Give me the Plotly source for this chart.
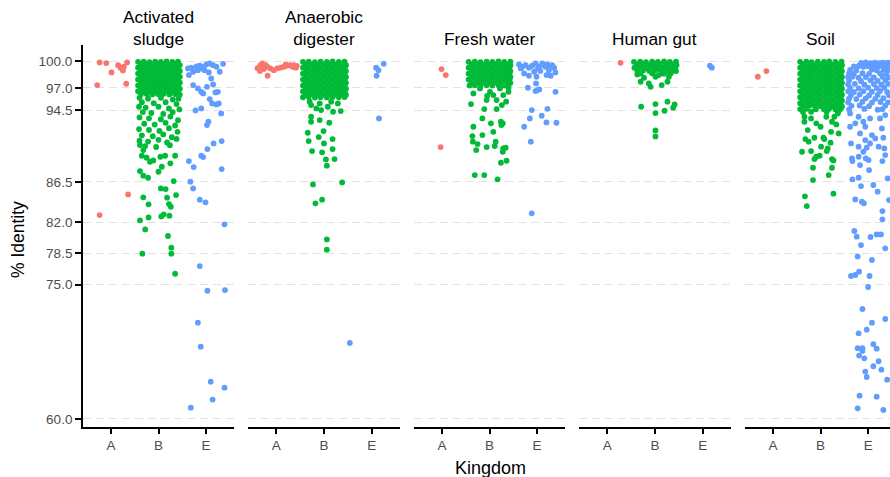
import plotly.graph_objects as go

# ---------------- data: (jitter offset within kingdom, % identity) ----------------
panels = ["Activated<br>sludge", "Anaerobic<br>digester", "Fresh water", "Human gut", "Soil"]
kingdoms = ["A", "B", "E"]
y_ticks = [60, 75, 78.5, 82, 86.5, 94.5, 97, 100]
colors = {"A": "#F8766D", "B": "#00BA38", "E": "#619CFF"}

sludge_A = [(-0.24,99.85),(-0.10,99.78),(0.01,98.73),(0.15,99.55),(0.20,99.26),(0.25,98.96),(0.27,99.37),
            (0.34,99.85),(-0.29,97.32),(0.32,97.47),(0.36,85.10),(-0.24,82.79)]
sludge_B = [
    (-0.43,99.92),(-0.31,99.95),(-0.19,99.89),(-0.07,99.93),(0.05,99.90),(0.17,99.96),(0.29,99.91),(0.41,99.94),
    (-0.37,99.60),(-0.25,99.63),(-0.13,99.57),(-0.01,99.61),(0.11,99.64),(0.23,99.58),(0.35,99.62),(0.45,99.56),
    (-0.43,99.27),(-0.31,99.30),(-0.19,99.24),(-0.07,99.28),(0.05,99.25),(0.17,99.31),(0.29,99.26),(0.41,99.29),
    (-0.37,98.94),(-0.25,98.97),(-0.13,98.91),(-0.01,98.95),(0.11,98.98),(0.23,98.92),(0.35,98.96),(0.45,98.90),
    (-0.43,98.61),(-0.31,98.64),(-0.19,98.58),(-0.07,98.62),(0.05,98.59),(0.17,98.65),(0.29,98.60),(0.41,98.63),
    (-0.37,98.28),(-0.25,98.31),(-0.13,98.25),(-0.01,98.29),(0.11,98.32),(0.23,98.26),(0.35,98.30),(0.45,98.24),
    (-0.43,97.95),(-0.31,97.98),(-0.19,97.92),(-0.07,97.96),(0.05,97.93),(0.17,97.99),(0.29,97.94),(0.41,97.97),
    (-0.37,97.62),(-0.25,97.65),(-0.13,97.59),(-0.01,97.63),(0.11,97.66),(0.23,97.60),(0.35,97.64),(0.45,97.58),
    (-0.43,97.29),(-0.31,97.32),(-0.19,97.26),(-0.07,97.30),(0.05,97.27),(0.17,97.33),(0.29,97.28),(0.41,97.31),
    (-0.37,96.96),(-0.25,96.99),(-0.13,96.93),(-0.01,96.97),(0.11,97.00),(0.23,96.94),(0.35,96.98),(0.45,96.92),
    (-0.43,96.63),(-0.31,96.66),(-0.19,96.60),(-0.07,96.64),(0.05,96.61),(0.17,96.67),(0.29,96.62),(0.41,96.65),
    (-0.37,96.30),(-0.25,96.33),(-0.13,96.27),(-0.01,96.31),(0.11,96.34),(0.23,96.28),(0.35,96.32),(0.45,96.26),
    (-0.40,95.9),(-0.22,95.8),(0.05,95.9),(0.30,95.7),(0.42,95.8),(-0.35,95.4),(-0.10,95.3),(0.15,95.4),(0.38,95.2),
    (-0.41,94.9),(-0.27,94.8),(0.00,94.9),(0.22,94.7),(0.44,94.6),(-0.33,94.3),(-0.15,94.2),(0.10,94.1),(0.30,94.3),
    (-0.40,93.7),(-0.20,93.6),(0.05,93.5),(0.25,93.8),(0.41,93.4),(-0.30,93.0),(-0.08,92.9),(0.15,93.1),(0.35,92.8),
    (-0.41,92.4),(-0.20,92.3),(0.02,92.2),(0.22,92.5),(0.40,92.1),(-0.35,91.7),(-0.12,91.6),(0.10,91.8),(0.28,91.5),
    (-0.40,91.1),(-0.22,91.0),(0.00,91.2),(0.18,90.9),(0.38,91.3),(-0.28,90.5),(-0.05,90.4),(0.24,90.6),
    (-0.39,90.61),(-0.32,90.06),(-0.35,89.42),(-0.25,89.20),(-0.18,88.75),(-0.11,88.90),(0.04,89.31),(0.14,89.42),
    (0.25,88.57),(0.35,89.42),(0.07,88.19),(-0.39,87.71),(-0.32,87.19),(-0.22,86.96),(0.00,87.63),(0.32,86.59),
    (0.05,85.77),(0.15,85.70),(-0.32,84.77),(-0.21,83.99),(0.18,84.73),(0.22,84.02),(0.26,83.72),(0.37,85.03),
    (-0.39,82.20),(-0.21,82.53),(-0.28,81.19),(0.06,82.64),(0.11,82.87),(0.23,82.72),(0.20,80.45),
    (-0.34,78.47),(0.27,79.14),(0.27,78.47),(0.35,76.23)]
sludge_E = [
    (-0.38,99.18),(-0.31,99.26),(-0.20,99.40),(-0.13,99.48),(-0.06,99.37),(0.01,99.63),(0.08,99.74),(0.15,99.55),
    (0.22,99.37),(0.29,98.81),(0.36,99.70),(-0.36,98.44),(-0.27,98.81),(-0.17,98.99),(-0.10,99.18),(-0.03,98.99),
    (0.06,98.73),(0.11,98.06),(-0.27,97.32),(-0.17,96.95),(-0.10,96.57),(-0.06,96.39),(0.02,97.13),(0.15,97.39),
    (0.20,96.50),(0.25,96.57),(0.08,95.75),(0.13,95.27),(0.22,95.16),(0.27,95.27),(0.32,94.15),(-0.22,94.49),
    (-0.10,94.71),(0.02,92.85),(0.05,93.22),(0.16,90.80),(0.33,91.06),(0.03,90.17),(-0.10,89.42),(-0.06,89.27),
    (-0.36,88.83),(-0.26,88.16),(0.33,87.93),(-0.33,86.52),(-0.27,85.77),(-0.13,84.51),(-0.01,84.21),(0.39,81.75),
    (-0.13,77.09),(0.03,74.33),(0.40,74.41),(-0.17,70.76),(-0.11,68.08),(0.10,64.17),(0.39,63.50),(0.14,62.16),
    (-0.32,61.26)]

digester_A = [(-0.33,99.55),(-0.29,99.74),(-0.34,98.88),(-0.26,99.11),(-0.19,99.37),(-0.18,98.36),(-0.12,99.18),
              (-0.05,98.99),(0.02,99.18),(0.09,99.26),(0.16,99.37),(0.20,99.63),(0.23,99.48),(0.29,99.55),
              (0.34,99.37),(0.37,99.55),(0.41,99.26),(-0.22,99.55),(-0.39,99.20),(0.43,99.45)]
digester_B = [
    (-0.44,99.92),(-0.32,99.95),(-0.19,99.89),(-0.07,99.93),(0.06,99.90),(0.18,99.96),(0.31,99.91),(0.43,99.94),
    (-0.38,99.59),(-0.25,99.62),(-0.13,99.56),(0.00,99.60),(0.12,99.63),(0.25,99.57),(0.37,99.61),(0.46,99.55),
    (-0.44,99.26),(-0.32,99.29),(-0.19,99.23),(-0.07,99.27),(0.06,99.24),(0.18,99.30),(0.31,99.25),(0.43,99.28),
    (-0.38,98.93),(-0.25,98.96),(-0.13,98.90),(0.00,98.94),(0.12,98.97),(0.25,98.91),(0.37,98.95),(0.46,98.89),
    (-0.44,98.60),(-0.32,98.63),(-0.19,98.57),(-0.07,98.61),(0.06,98.58),(0.18,98.64),(0.31,98.59),(0.43,98.62),
    (-0.38,98.27),(-0.25,98.30),(-0.13,98.24),(0.00,98.28),(0.12,98.31),(0.25,98.25),(0.37,98.29),(0.46,98.23),
    (-0.44,97.94),(-0.32,97.97),(-0.19,97.91),(-0.07,97.95),(0.06,97.92),(0.18,97.98),(0.31,97.93),(0.43,97.96),
    (-0.38,97.61),(-0.25,97.64),(-0.13,97.58),(0.00,97.62),(0.12,97.65),(0.25,97.59),(0.37,97.63),(0.46,97.57),
    (-0.44,97.28),(-0.32,97.31),(-0.19,97.25),(-0.07,97.29),(0.06,97.26),(0.18,97.32),(0.31,97.27),(0.43,97.30),
    (-0.38,96.95),(-0.25,96.98),(-0.13,96.92),(0.00,96.96),(0.12,96.99),(0.25,96.93),(0.37,96.97),(0.46,96.91),
    (-0.44,96.62),(-0.32,96.65),(-0.19,96.59),(-0.07,96.63),(0.06,96.60),(0.18,96.66),(0.31,96.61),(0.43,96.64),
    (-0.38,96.29),(-0.25,96.32),(-0.13,96.26),(0.00,96.30),(0.12,96.33),(0.25,96.27),(0.37,96.31),(0.46,96.25),
    (-0.44,95.96),(-0.32,95.99),(-0.19,95.93),(-0.07,95.97),(0.06,95.94),(0.18,96.00),(0.31,95.95),(0.43,95.98),
    (-0.27,95.08),(-0.16,94.71),(-0.06,94.53),(0.08,94.90),(0.19,94.34),(0.29,95.27),(-0.30,95.46),(0.15,95.46),
    (-0.09,95.27),(-0.27,93.78),(-0.27,93.22),(-0.09,93.41),(0.11,93.11),(0.35,94.41),(-0.01,92.18),(-0.34,91.99),
    (-0.32,91.06),(-0.11,91.51),(0.18,91.28),(0.00,90.80),(-0.25,89.94),(-0.04,89.80),(0.18,90.17),(0.04,89.01),
    (0.22,89.05),(0.06,88.31),(-0.23,86.22),(0.38,86.44),(-0.18,84.10),(-0.04,84.51),(0.06,80.07),(0.06,78.92)]
digester_E = [(0.09,99.26),(0.14,98.99),(0.25,99.70),(0.10,98.36),(0.15,93.59),(-0.46,68.5)]

fresh_A = [(-0.01,99.11),(0.08,98.44),(-0.03,90.39)]
fresh_B = [
    (-0.44,99.92),(-0.31,99.95),(-0.19,99.89),(-0.06,99.93),(0.06,99.90),(0.19,99.96),(0.31,99.91),(0.44,99.94),
    (-0.37,99.59),(-0.25,99.62),(-0.12,99.56),(0.00,99.60),(0.12,99.63),(0.25,99.57),(0.37,99.61),(0.44,99.55),
    (-0.44,99.26),(-0.31,99.29),(-0.19,99.23),(-0.06,99.27),(0.06,99.24),(0.19,99.30),(0.31,99.25),(0.42,99.28),
    (-0.37,98.93),(-0.25,98.96),(-0.12,98.90),(0.00,98.94),(0.12,98.97),(0.25,98.91),(0.37,98.95),(0.44,98.89),
    (-0.44,98.60),(-0.31,98.63),(-0.19,98.57),(-0.06,98.61),(0.06,98.58),(0.19,98.64),(0.31,98.59),(0.42,98.62),
    (-0.37,98.27),(-0.25,98.30),(-0.12,98.24),(0.00,98.28),(0.12,98.31),(0.25,98.25),(0.37,98.29),(0.44,98.23),
    (-0.44,97.94),(-0.31,97.97),(-0.19,97.91),(-0.06,97.95),(0.06,97.92),(0.19,97.98),(0.31,97.93),(0.42,97.96),
    (-0.37,97.61),(-0.25,97.64),(-0.12,97.58),(0.00,97.62),(0.12,97.65),(0.25,97.59),(0.37,97.63),(0.44,97.57),
    (-0.42,97.28),(-0.31,97.31),(-0.19,97.25),(-0.06,97.29),(0.06,97.26),(0.19,97.32),(0.31,97.27),(0.40,97.30),
    (-0.34,96.39),(-0.39,95.20),(-0.11,94.64),(-0.15,93.59),(0.03,93.04),(0.24,93.22),(0.28,93.04),
    (-0.34,92.66),(-0.15,91.73),(0.08,92.10),(0.25,92.85),(-0.36,91.62),(-0.35,90.99),(-0.25,90.73),(-0.28,90.06),
    (-0.06,90.39),(0.11,90.50),(0.13,90.99),(0.29,90.24),(0.34,90.32),(0.28,89.87),(0.36,88.86),(0.24,88.64),
    (-0.31,87.26),(-0.11,87.26),(0.17,86.78),(0.08,96.20),(0.15,95.64),(0.29,96.20),(0.40,96.57),(0.01,96.57),
    (-0.20,96.95),(0.15,94.64),(0.26,95.08),(0.35,95.46),(-0.06,95.64),(0.22,96.95),(0.40,97.00),(-0.05,96.10)]
fresh_E = [
    (-0.38,99.63),(-0.31,99.37),(-0.24,99.55),(-0.17,99.26),(-0.10,99.48),(-0.03,99.74),(0.04,99.37),(0.15,99.55),
    (0.22,99.63),(0.29,99.37),(0.36,99.26),(0.25,98.99),(0.32,99.55),(-0.27,98.62),(-0.17,98.36),(-0.06,98.81),
    (0.02,99.18),(0.20,98.44),(0.29,98.36),(0.39,98.73),(-0.01,98.25),(-0.02,97.50),(-0.19,97.02),(-0.03,96.65),
    (0.01,96.76),(0.05,96.83),(0.39,96.57),(-0.11,94.53),(-0.15,93.59),(0.10,93.89),(0.22,94.67),(0.20,93.15),
    (0.41,93.11),(-0.27,92.66),(-0.13,90.99),(-0.11,82.98),(0.18,99.37),(0.11,99.74),(-0.34,99.18),(0.07,98.90)]

gut_A = [(0.28,99.81)]
gut_B = [
    (-0.44,99.92),(-0.31,99.95),(-0.19,99.89),(-0.06,99.93),(0.06,99.90),(0.19,99.96),(0.31,99.91),(0.44,99.94),
    (-0.37,99.59),(-0.25,99.62),(-0.12,99.56),(0.00,99.60),(0.12,99.63),(0.25,99.57),(0.37,99.61),(0.45,99.55),
    (-0.43,99.26),(-0.30,99.29),(-0.18,99.23),(-0.06,99.27),(0.06,99.24),(0.18,99.30),(0.31,99.25),(0.42,99.28),
    (-0.37,98.93),(-0.25,98.96),(-0.12,98.90),(0.00,98.94),(0.12,98.97),(0.25,98.91),(0.37,98.95),(0.44,98.89),
    (-0.30,98.62),(-0.06,98.63),(0.18,98.60),(0.33,98.64),
    (-0.37,98.51),(-0.23,98.14),(-0.30,97.69),(-0.13,97.50),(-0.09,97.13),(0.01,98.25),(0.14,97.32),(0.26,97.69),
    (0.29,98.25),(0.22,98.81),(0.08,98.44),(-0.29,94.90),(0.01,95.20),(0.01,94.19),(0.20,94.45),(0.26,95.46),
    (0.38,94.79),(0.41,95.16),(0.01,92.25),(0.01,91.58)]
gut_E = [(0.15,99.48),(0.19,99.26)]

soil_A = [(-0.32,98.25),(-0.14,98.88)]
soil_B = [
    (-0.43,99.92),(-0.30,99.95),(-0.19,99.89),(-0.06,99.93),(0.07,99.90),(0.18,99.96),(0.31,99.91),(0.44,99.94),
    (-0.37,99.59),(-0.24,99.62),(-0.12,99.56),(0.00,99.60),(0.13,99.63),(0.24,99.57),(0.37,99.61),(0.45,99.55),
    (-0.43,99.26),(-0.30,99.29),(-0.19,99.23),(-0.06,99.27),(0.07,99.24),(0.18,99.30),(0.31,99.25),(0.42,99.28),
    (-0.37,98.93),(-0.24,98.96),(-0.12,98.90),(0.00,98.94),(0.13,98.97),(0.24,98.91),(0.37,98.95),(0.45,98.89),
    (-0.43,98.60),(-0.30,98.63),(-0.19,98.57),(-0.06,98.61),(0.07,98.58),(0.18,98.64),(0.31,98.59),(0.42,98.62),
    (-0.37,98.27),(-0.24,98.30),(-0.12,98.24),(0.00,98.28),(0.13,98.31),(0.24,98.25),(0.37,98.29),(0.45,98.23),
    (-0.43,97.94),(-0.30,97.97),(-0.19,97.91),(-0.06,97.95),(0.07,97.92),(0.18,97.98),(0.31,97.93),(0.42,97.96),
    (-0.37,97.61),(-0.24,97.64),(-0.12,97.58),(0.00,97.62),(0.13,97.65),(0.24,97.59),(0.37,97.63),(0.45,97.57),
    (-0.43,97.28),(-0.30,97.31),(-0.19,97.25),(-0.06,97.29),(0.07,97.26),(0.18,97.32),(0.31,97.27),(0.42,97.30),
    (-0.37,96.95),(-0.24,96.98),(-0.12,96.92),(0.00,96.96),(0.13,96.99),(0.24,96.93),(0.37,96.97),(0.45,96.91),
    (-0.43,96.62),(-0.30,96.65),(-0.19,96.59),(-0.06,96.63),(0.07,96.60),(0.18,96.66),(0.31,96.61),(0.42,96.64),
    (-0.37,96.29),(-0.24,96.32),(-0.12,96.26),(0.00,96.30),(0.13,96.33),(0.24,96.27),(0.37,96.31),(0.45,96.25),
    (-0.43,95.96),(-0.30,95.99),(-0.19,95.93),(-0.06,95.97),(0.07,95.94),(0.18,96.00),(0.31,95.95),(0.42,95.98),
    (-0.37,95.63),(-0.24,95.66),(-0.12,95.60),(0.00,95.64),(0.13,95.67),(0.24,95.61),(0.37,95.65),(0.45,95.59),
    (-0.43,95.30),(-0.30,95.33),(-0.19,95.27),(-0.06,95.31),(0.07,95.28),(0.18,95.34),(0.31,95.29),(0.42,95.32),
    (-0.37,94.97),(-0.24,95.00),(-0.12,94.94),(0.00,94.98),(0.13,95.01),(0.24,94.95),(0.37,94.99),(0.45,94.93),
    (-0.43,94.64),(-0.30,94.67),(-0.10,94.61),(0.07,94.62),(0.18,94.68),(0.31,94.63),(0.42,94.66),
    (-0.37,94.31),(-0.20,94.34),(0.13,94.35),(0.37,94.33),
    (-0.34,93.22),(-0.27,92.29),(-0.09,93.04),(0.00,92.66),(0.24,93.22),(0.33,92.92),(0.38,91.92),(0.22,92.10),
    (-0.32,91.28),(-0.25,90.99),(-0.13,91.43),(0.08,91.28),(0.21,90.88),(-0.39,89.87),(-0.20,89.94),(-0.09,89.31),
    (-0.13,89.05),(-0.02,89.42),(0.13,89.94),(0.24,89.05),(0.27,88.90),(-0.16,88.08),(0.24,88.08),(0.17,87.26),
    (-0.16,86.70),(0.27,85.18),(-0.33,84.88),(-0.29,83.80),(0.06,91.43),(0.01,90.43),(0.15,90.24),(-0.34,93.78),
    (-0.20,93.59),(0.12,93.78),(0.29,93.78),(0.36,94.15)]
soil_E = [
    (-0.15,99.80),(-0.05,99.85),(0.05,99.78),(0.14,99.84),(0.22,99.76),(0.30,99.82),(0.38,99.79),(0.45,99.83),
    (-0.30,99.40),(-0.20,99.45),(-0.10,99.36),(0.00,99.42),(0.10,99.47),(0.20,99.38),(0.28,99.44),(0.36,99.35),(0.44,99.41),
    (-0.38,99.02),(-0.25,98.96),(0.08,99.05),(0.18,98.98),(0.33,99.03),(0.42,98.95),
    (-0.40,98.62),(-0.30,98.56),(-0.12,98.65),(0.02,98.58),(0.25,98.64),(0.38,98.55),
    (-0.42,98.20),(-0.33,98.26),(-0.20,98.15),(-0.05,98.22),(0.12,98.18),(0.30,98.25),(0.44,98.16),
    (-0.40,97.82),(-0.15,97.76),(0.05,97.85),(0.20,97.78),(0.36,97.84),
    (-0.42,97.40),(-0.28,97.46),(-0.08,97.36),(0.12,97.43),(0.28,97.38),(0.42,97.45),
    (-0.38,97.00),(-0.20,96.95),(0.00,97.04),(0.18,96.98),(0.34,97.02),
    (-0.42,96.62),(-0.30,96.56),(-0.10,96.64),(0.08,96.58),(0.25,96.65),(0.40,96.55),
    (-0.36,96.20),(-0.18,96.26),(0.02,96.16),(0.20,96.22),(0.44,96.18),
    (-0.40,95.82),(-0.25,95.76),(-0.05,95.84),(0.15,95.78),(0.32,95.85),
    (-0.42,95.40),(-0.12,95.46),(0.08,95.36),(0.26,95.43),(0.42,95.38),
    (-0.35,95.00),(-0.18,95.05),(0.02,94.96),(0.36,95.02),(-0.40,94.60),(-0.08,94.65),(0.20,94.56),(0.30,94.62),
    (-0.38,94.15),(-0.20,93.78),(-0.38,92.66),(-0.27,93.04),(-0.10,93.22),(0.04,93.59),(-0.06,92.66),(0.25,93.59),
    (0.36,93.97),(0.29,92.48),(-0.17,91.92),(0.08,91.73),(-0.06,91.17),(0.15,91.36),(0.04,90.80),(0.32,91.43),
    (-0.36,90.80),(-0.20,90.43),(-0.03,90.32),(-0.10,89.87),(0.22,90.43),(0.34,90.24),(-0.20,89.31),(-0.34,89.12),
    (-0.05,89.12),(0.01,88.94),(0.36,89.50),(0.30,88.83),(-0.33,88.83),(-0.17,88.38),(0.02,87.82),(-0.33,86.78),
    (-0.20,86.96),(-0.15,86.03),(0.11,86.15),(0.20,85.40),(-0.27,84.54),(-0.13,84.28),(-0.09,84.10),(0.30,83.24),
    (0.30,82.31),(-0.29,81.01),(-0.24,80.37),(0.05,80.34),(0.18,80.63),(0.27,80.63),(-0.15,79.44),(0.36,79.07),
    (0.44,84.47),(0.41,86.89),
    (-0.22,78.17),(0.08,77.77),(-0.19,76.46),(-0.27,76.09),(-0.36,75.98),(0.03,75.98),(0.00,74.75),(-0.12,72.29),
    (0.08,70.76),(0.36,71.17),(-0.03,69.98),(-0.20,69.57),(0.11,68.35),(-0.22,67.90),(-0.12,67.90),(0.18,67.86),
    (-0.12,67.60),(-0.19,67.08),(-0.08,66.78),(0.22,66.45),(0.11,65.89),(0.28,65.51),(-0.06,65.29),(-0.03,64.69),
    (0.40,64.39),(-0.18,62.60),(0.18,62.49),(-0.22,61.19),(0.32,61.01)]

panel_data = [
    {"A": sludge_A, "B": sludge_B, "E": sludge_E},
    {"A": digester_A, "B": digester_B, "E": digester_E},
    {"A": fresh_A, "B": fresh_B, "E": fresh_E},
    {"A": gut_A, "B": gut_B, "E": gut_E},
    {"A": soil_A, "B": soil_B, "E": soil_E},
]

# ---------------- figure ----------------
W, H = 890, 477
L, T, B, R = 83, 45, 50, 0                 # plot area: x 83..890, y 45..427
plot_w = W - L - R
plot_h = H - T - B
panel_px = [(83, 234), (248, 400), (414, 565), (579, 731), (745, 890)]
x_ranges = [[-0.59, 2.59]] * 4 + [[-0.59, 2.46]]
y_range = [59.1, 101.8]
FONT = "Liberation Sans, Arial, Helvetica, sans-serif"

fig = go.Figure()
for i, pdata in enumerate(panel_data):
    sfx = "" if i == 0 else str(i + 1)
    for k_idx, k in enumerate(kingdoms):
        pts = pdata[k]
        fig.add_trace(go.Scatter(
            x=[k_idx + p[0] for p in pts], y=[p[1] for p in pts],
            mode="markers", xaxis="x" + sfx, yaxis="y" + sfx,
            marker=dict(size=5.8, color=colors[k], line=dict(width=0)),
            showlegend=False, hoverinfo="skip"))
    a, b = panel_px[i]
    dom = [(a - L) / plot_w, min(1.0, (b - L) / plot_w)]
    fig.layout["xaxis" + sfx] = dict(
        domain=dom, range=x_ranges[i], anchor="y" + sfx,
        tickvals=[0, 1, 2], ticktext=kingdoms,
        showline=True, linecolor="black", linewidth=1.8,
        ticks="outside", ticklen=5, tickwidth=1.8, tickcolor="black",
        showgrid=False, zeroline=False,
        tickfont=dict(size=13.5, color="#4d4d4d", family=FONT))
    ydict = dict(
        domain=[0, 1], range=y_range, anchor="x" + sfx,
        tickvals=y_ticks, showgrid=True, gridcolor="#e2e2e2", gridwidth=1.3,
        griddash="8px,5px", zeroline=False)
    if i == 0:
        ydict.update(showline=True, linecolor="black", linewidth=1.8,
                     ticks="outside", ticklen=6, tickwidth=1.8, tickcolor="black",
                     tickformat=".1f",
                     tickfont=dict(size=13.5, color="#4d4d4d", family=FONT))
    else:
        ydict.update(showline=False, ticks="", showticklabels=False)
    fig.layout["yaxis" + sfx] = ydict
    # facet strip title
    cx = ((a + (a + 151)) / 2 - L) / plot_w
    fig.add_annotation(text=panels[i], x=cx, y=1.0, xref="paper", yref="paper",
                       xanchor="center", yanchor="bottom", yshift=-6, showarrow=False,
                       font=dict(size=17.3, color="black", family=FONT))

fig.add_annotation(text="Kingdom", x=(490 - L) / plot_w, y=(H - B - 468) / plot_h,
                   xref="paper", yref="paper", xanchor="center", yanchor="middle",
                   showarrow=False, font=dict(size=18, color="black", family=FONT))
fig.add_annotation(text="% Identity", x=(18 - L) / plot_w, y=(H - B - 240) / plot_h,
                   xref="paper", yref="paper",
                   xanchor="center", yanchor="middle", textangle=-90, showarrow=False,
                   font=dict(size=17.5, color="black", family=FONT))

fig.update_layout(width=W, height=H, margin=dict(l=L, r=R, t=T, b=B),
                  plot_bgcolor="white", paper_bgcolor="white",
                  font=dict(family=FONT))
# remove the page's default body margin so the figure fills the window exactly
fig.write_html("out.html", config={"displayModeBar": False},
               post_script="document.body.style.margin='0';document.body.style.overflow='hidden';")
